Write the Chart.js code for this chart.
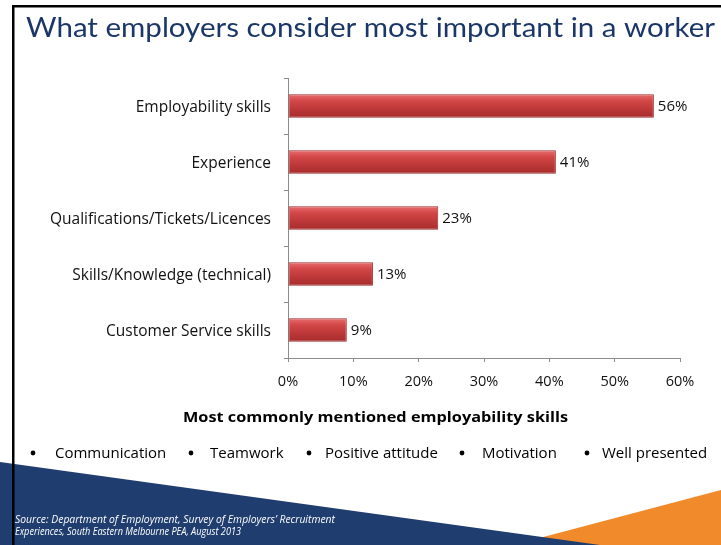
<!DOCTYPE html>
<html>
<head>
<meta charset="utf-8">
<script src="https://cdn.jsdelivr.net/npm/chart.js@4/dist/chart.umd.min.js"></script>
<style>
  html, body { margin: 0; padding: 0; background: #fff; }
  #wrap { position: relative; width: 721px; height: 545px; }
</style>
</head>
<body>
<div id="wrap"><canvas id="chart"></canvas></div>
<script>
const titleText = "What employers consider most important in a worker";
const categories = ["Employability skills", "Experience", "Qualifications/Tickets/Licences", "Skills/Knowledge (technical)", "Customer Service skills"];
const shares = [56, 41, 23, 13, 9];
const xTicks = [0, 10, 20, 30, 40, 50, 60];
const skillsHeading = "Most commonly mentioned employability skills";
const skills = ["Communication", "Teamwork", "Positive attitude", "Motivation", "Well presented"];
const sourceLines = [
  "Source: Department of Employment, Survey of Employers\u2019 Recruitment",
  "Experiences, South Eastern Melbourne PEA, August 2013"
];

const FONT = "'Open Sans', sans-serif";
const TITLE_FONT = "Lato, 'Open Sans', sans-serif";
const NAVY = "#1f3d6e";

// draw text squeezed/stretched to a given width
function fitText(ctx, text, x, y, width) {
  const w = ctx.measureText(text).width;
  ctx.save();
  ctx.translate(x, y);
  ctx.scale(width / w, 1);
  ctx.fillText(text, 0, 0);
  ctx.restore();
}

const slideDecor = {
  id: "slideDecor",
  beforeDraw(chart) {
    const ctx = chart.ctx;
    ctx.save();
    ctx.fillStyle = "#fff";
    ctx.fillRect(0, 0, chart.width, chart.height);
    // orange wedge, bottom right
    ctx.fillStyle = "#f08a2b";
    ctx.beginPath();
    ctx.moveTo(513, 545); ctx.lineTo(721, 490); ctx.lineTo(721, 545);
    ctx.closePath(); ctx.fill();
    // navy wedge, bottom left
    ctx.fillStyle = NAVY;
    ctx.beginPath();
    ctx.moveTo(0, 462); ctx.lineTo(600, 545); ctx.lineTo(0, 545);
    ctx.closePath(); ctx.fill();
    // frame lines
    ctx.fillStyle = "#000";
    ctx.fillRect(12, 5, 721, 2.5);
    ctx.fillRect(12, 5, 2.5, 545);
    ctx.restore();
  },
  afterDraw(chart) {
    const ctx = chart.ctx;
    ctx.save();
    // title
    ctx.fillStyle = "#1b3768";
    ctx.font = "26px " + TITLE_FONT;
    ctx.textBaseline = "alphabetic";
    ctx.textAlign = "left";
    fitText(ctx, titleText, 26, 37, 689);

    // value labels at bar ends
    ctx.fillStyle = "#111";
    ctx.font = "15px " + FONT;
    ctx.textBaseline = "middle";
    chart.getDatasetMeta(0).data.forEach((bar, i) => {
      ctx.fillText(shares[i] + "%", bar.x + 4, bar.y + 1);
    });

    // skills heading
    ctx.font = "bold 15px " + FONT;
    ctx.fillStyle = "#000";
    fitText(ctx, skillsHeading, 183, 418, 385);

    // bullet list
    ctx.font = "15px " + FONT;
    const bulletX = [33, 191, 309, 462, 587];
    const wordX = [55, 210, 325, 482, 602];
    skills.forEach((s, i) => {
      ctx.beginPath();
      ctx.arc(bulletX[i], 453, 2.4, 0, Math.PI * 2);
      ctx.fill();
      ctx.fillText(s, wordX[i], 454);
    });

    // source note
    ctx.font = "italic 10px " + FONT;
    ctx.fillStyle = "#fff";
    fitText(ctx, sourceLines[0], 15, 520, 320);
    fitText(ctx, sourceLines[1], 15, 532, 226);
    ctx.restore();
  }
};

// vertical shading on each bar, lighter at the top edge
function barFill(context) {
  const chart = context.chart;
  if (!chart.chartArea || context.dataIndex === undefined) return "#c83c3c";
  const y = chart.scales.y.getPixelForValue(context.dataIndex);
  const g = chart.ctx.createLinearGradient(0, y - 12, 0, y + 12);
  g.addColorStop(0, "#e87070");
  g.addColorStop(0.3, "#d24545");
  g.addColorStop(1, "#a62b2b");
  return g;
}

new Chart(document.getElementById("chart"), {
  type: "bar",
  data: {
    labels: categories,
    datasets: [{
      data: shares,
      backgroundColor: barFill,
      borderColor: "#9e2a2a",
      borderWidth: 1,
      borderSkipped: false,
      barPercentage: 0.42,
      categoryPercentage: 1
    }]
  },
  options: {
    indexAxis: "y",
    responsive: true,
    maintainAspectRatio: false,
    animation: false,
    layout: { padding: { left: 0, top: 78, right: 41, bottom: 147 } },
    plugins: { legend: { display: false }, tooltip: { enabled: false } },
    scales: {
      y: {
        afterFit: s => { s.width = 288; },
        grid: { drawOnChartArea: false, tickLength: 4, color: "#8c8c8c", offset: true },
        border: { color: "#8c8c8c" },
        ticks: { color: "#111", padding: 13, labelOffset: 2, font: { family: FONT, size: 15.5 } }
      },
      x: {
        min: 0,
        max: 60,
        afterBuildTicks: s => { s.ticks = xTicks.map(v => ({ value: v })); },
        afterFit: s => { s.height = 40; },
        grid: { drawOnChartArea: false, tickLength: 4, color: "#8c8c8c" },
        border: { color: "#8c8c8c" },
        ticks: { color: "#111", padding: 11, maxRotation: 0, callback: v => v + "%", font: { family: FONT, size: 14.5 } }
      }
    }
  },
  plugins: [slideDecor]
});
</script>
</body>
</html>
